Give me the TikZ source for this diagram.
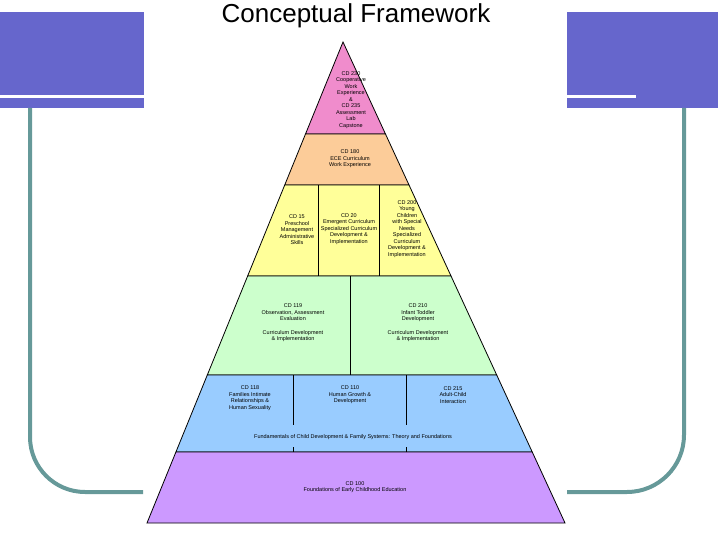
\documentclass[tikz,border=0pt]{standalone}
\usepackage{fontspec}
\setmainfont{Liberation Sans}
\usetikzlibrary{calc}
\definecolor{slideblue}{RGB}{102,102,204}
\definecolor{frameteal}{RGB}{102,153,153}
\definecolor{tierpink}{RGB}{240,140,204}
\definecolor{tierorange}{RGB}{252,204,153}
\definecolor{tieryellow}{RGB}{255,255,153}
\definecolor{tiergreen}{RGB}{204,255,204}
\definecolor{tierblue}{RGB}{153,204,255}
\definecolor{tierpurple}{RGB}{204,153,255}

\begin{document}
\begin{tikzpicture}[x=1pt,y=-1pt,
  tier/.style={draw=black,line width=0.8pt},
  course/.style={align=center,font=\fontsize{5.5}{6.5}\selectfont,inner sep=0pt},
  frame/.style={frameteal,line width=4pt}]
  \useasboundingbox (0,0) rectangle (720,540);
  % slide decoration
  \fill[slideblue] (0,12) rectangle (144,95);
  \fill[slideblue] (0,98) rectangle (144,108);
  \fill[slideblue] (567,12) rectangle (718,108);
  \fill[white] (567,95) rectangle (636,98);
  \draw[frame,rounded corners=55pt] (30,108) -- (30,492) -- (143,492);
  \draw[frame,rounded corners=57pt] (684,108) -- (684,492) -- (567,492);
  \node[font=\fontsize{26}{30}\selectfont] (title) at (356,16) {Conceptual Framework};
  % pyramid tiers
  \coordinate (apex) at (343,42);
  \coordinate (bl) at (147,523);
  \coordinate (br) at (565,523);
  \foreach \n/\f in {1/0.1913,2/0.2973,3/0.4865,4/0.6923,5/0.8524}{
    \coordinate (l\n) at ($(apex)!\f!(bl)$);
    \coordinate (r\n) at ($(apex)!\f!(br)$);
  }
  \filldraw[tier,fill=tierpink] (apex) -- (l1) -- (r1) -- cycle;
  \filldraw[tier,fill=tierorange] (l1) -- (l2) -- (r2) -- (r1) -- cycle;
  \filldraw[tier,fill=tieryellow] (l2) -- (l3) -- (r3) -- (r2) -- cycle;
  \filldraw[tier,fill=tiergreen] (l3) -- (l4) -- (r4) -- (r3) -- cycle;
  \filldraw[tier,fill=tierblue] (l4) -- (l5) -- (r5) -- (r4) -- cycle;
  \filldraw[tier,fill=tierpurple] (l5) -- (bl) -- (br) -- (r5) -- cycle;
  % dividers
  \draw[tier] (318,185) -- (318,276) (379,185) -- (379,276);
  \draw[tier] (350,276) -- (350,375);
  \draw[tier] (293,375) -- (293,425) (406,375) -- (406,425);
  \draw[tier] (293,447) -- (293,452) (406,447) -- (406,452);
  % course labels
  \node[course] (cd230) at (351,100) {CD 230\\Cooperative\\Work\\Experience\\\&\\CD 235\\Assessment\\Lab\\Capstone};
  \node[course] (cd180) at (350,159) {CD 180\\ECE Curriculum\\Work Experience};
  \node[course] (cd15) at (297,230) {CD 15\\Preschool\\Management\\Administrative\\Skills};
  \node[course] (cd20) at (349,229) {CD 20\\Emergent Curriculum\\Specialized Curriculum\\Development \&\\Implementation};
  \node[course] (cd200) at (407,229) {CD 200\\Young\\Children\\with Special\\Needs\\Specialized\\Curriculum\\Development \&\\Implementation};
  \node[course] (cd119) at (293,323) {CD 119\\Observation, Assessment\\Evaluation\\[7pt]Curriculum Development\\\& Implementation};
  \node[course] (cd210) at (418,323) {CD 210\\Infant Toddler\\Development\\[7pt]Curriculum Development\\\& Implementation};
  \node[course] (cd118) at (250,398) {CD 118\\Families Intimate\\Relationships \&\\Human Sexuality};
  \node[course] (cd110) at (350,395) {CD 110\\Human Growth \&\\Development};
  \node[course] (cd215) at (453,395) {CD 215\\Adult-Child\\Interaction};
  \node[course] (found) at (353,437) {Fundamentals of Child Development \& Family Systems: Theory and Foundations};
  \node[course] (cd100) at (355,487) {CD 100\\Foundations of Early Childhood Education};
\end{tikzpicture}
\end{document}
